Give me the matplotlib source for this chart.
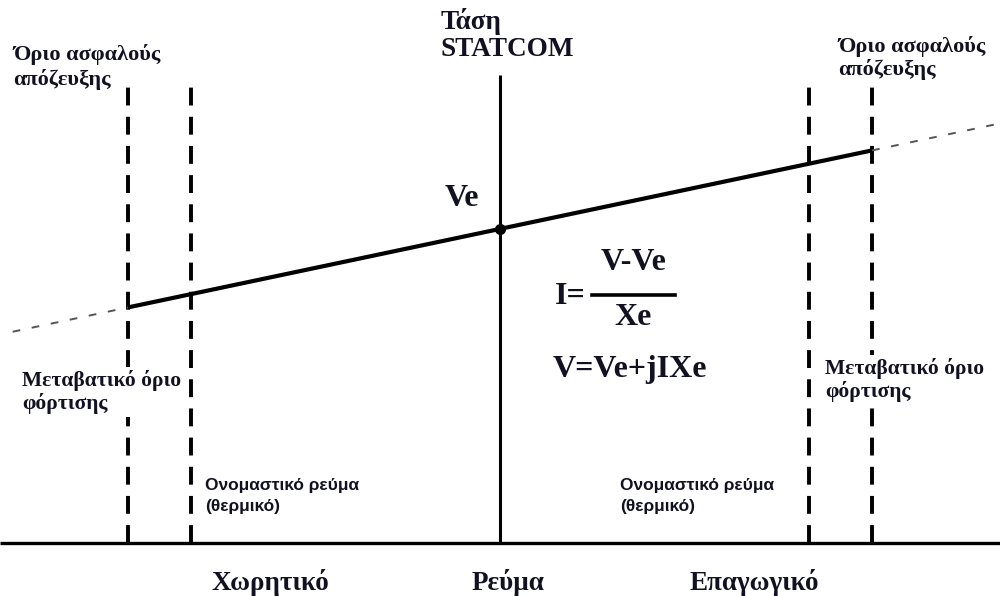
import numpy as np
import matplotlib
matplotlib.use("Agg")
import matplotlib.pyplot as plt

# STATCOM V-I characteristic (per-unit quantities)
Ve = 1.0            # voltage reference
Xe = 0.25           # slope reactance
I_safe = [-1.0, 1.0]          # safe trip limits
I_nominal = [-0.83, 0.83]     # nominal (thermal) current limits
I_ext = [-1.31, 1.33]         # extent of dashed extension of the characteristic

labels_safe = "Όριο ασφαλούς\nαπόζευξης"
label_transient = "Μεταβατικό όριο\nφόρτισης"
label_nominal = "Ονομαστικό ρεύμα\n(θερμικό)"
label_vaxis = "Τάση\nSTATCOM"
label_caps = "Χωρητικό"
label_ind = "Επαγωγικό"
label_iaxis = "Ρεύμα"

W, H = 1000, 596
fig = plt.figure(figsize=(W / 100, H / 100), dpi=100)
ax = fig.add_axes([0, 0, 1, 1])
ax.set_xlim(-1.344, 1.344)
ax.set_ylim(-0.169, 1.729)
ax.axis("off")

def vchar(i):
    return Ve + Xe * np.asarray(i)

# axes of the diagram
ax.plot([-1.344, 1.344], [0, 0], color="black", lw=2.4, solid_capstyle="butt")
ax.plot([0, 0], [0, 1.49], color="black", lw=2.2, solid_capstyle="butt")

# dashed limit lines
for i in I_safe:
    ax.plot([i, i], [0, 1.455], color="black", lw=2.8, dashes=(4.6, 2.9))
for i in I_nominal:
    ax.plot([i, i], [0, 1.46], color="black", lw=2.8, dashes=(4.6, 2.9))

# characteristic: solid between safe limits, dashed outside
i_solid = np.array(I_safe)
ax.plot(i_solid, vchar(i_solid), color="black", lw=3.0, solid_capstyle="butt")
ax.plot([I_ext[0], I_safe[0]], vchar([I_ext[0], I_safe[0]]), color="#555555",
        lw=1.4, dashes=(4, 6))
ax.plot([I_safe[1], I_ext[1]], vchar([I_safe[1], I_ext[1]]), color="#555555",
        lw=1.4, dashes=(4, 6))
ax.plot([0], [Ve], "o", color="black", ms=7)

serif = ["Liberation Serif", "DejaVu Serif"]
narrow = ["Liberation Sans Narrow", "Liberation Sans", "DejaVu Sans"]
tc = "#111122"

def px(x, y):
    return x / W, 1 - y / H

def txt(x, y, s, size, fam=serif, ha="left", va="center", ls=1.15, bg=False):
    kw = {}
    if bg:
        kw["bbox"] = dict(facecolor="white", edgecolor="none", pad=2)
    ax.text(*px(x, y), s, transform=ax.transAxes, fontsize=size, family=fam,
            fontweight="bold", ha=ha, va=va, color=tc, linespacing=ls,
            zorder=5, **kw)

txt(441, 35, label_vaxis, 19.5, ls=1.12)
txt(445, 198, "Ve", 23)
txt(13, 67, labels_safe, 16, ls=1.25)
txt(838, 58, labels_safe, 16, ls=1.15)
txt(22, 392, label_transient, 15.5, ls=1.15, bg=True)
txt(825, 380, label_transient, 15.5, ls=1.15, bg=True)
txt(205, 496, label_nominal, 12.5, fam=narrow, ls=1.45)
txt(620, 496, label_nominal, 12.5, fam=narrow, ls=1.45)
txt(212, 582, label_caps, 19.5)
txt(472, 583, label_iaxis, 19.5)
txt(690, 582, label_ind, 19.5)

# equations
txt(555, 297, "I=", 23)
txt(634, 263, "V-Ve", 23, ha="center")
txt(633, 318, "Xe", 23, ha="center")
ax.plot([0.248, 0.47], [vchar(0) - 0.21] * 2, color="black", lw=2.6)
txt(553, 370, "V=Ve+jIXe", 23)

fig.savefig("out.png", dpi=100, facecolor="white")
